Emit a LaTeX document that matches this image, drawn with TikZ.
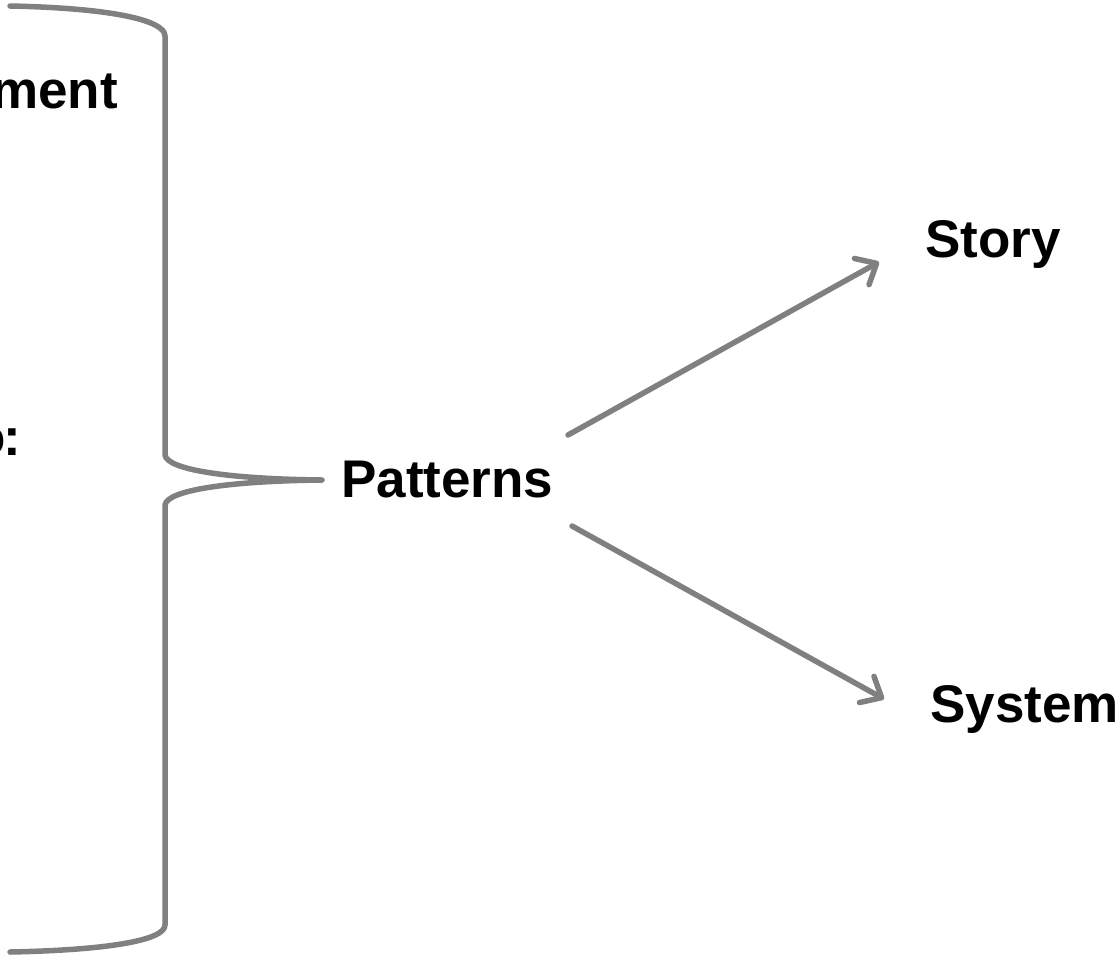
\documentclass[tikz,border=0pt]{standalone}
\usepackage{fontspec}
\setmainfont{Liberation Sans}
\usetikzlibrary{arrows.meta}
\definecolor{linegray}{HTML}{808080}
\tikzset{
  lbl/.style={inner sep=0pt, font=\fontsize{53}{60}\selectfont\bfseries, text=black},
  bracepath/.style={draw=linegray, line width=5.5pt, line cap=round, line join=round},
  arr/.style={draw=linegray, line width=5.5pt, line cap=round,
    -{Straight Barb[length=17pt,width=30pt,round]}}
}
\begin{document}
\begin{tikzpicture}[x=1pt,y=-1pt]
\useasboundingbox (0,0) rectangle (1119,956);
\clip (0,0) rectangle (1119,956);
% cropped texts on the left
\node[lbl, anchor=base east] (ment) at (118,108) {ment};
\node[lbl, anchor=base east] (colon) at (21,455) {o\kern-3pt:};
% main labels
\node[lbl, anchor=base west] (pat) at (341,497) {Patterns};
\node[lbl, anchor=base west] (story) at (925,257) {Story};
\node[lbl, anchor=base west] (sys) at (930,722) {System};
% brace
\coordinate (btop) at (10,6);
\coordinate (btip) at (322,480);
\coordinate (bbot) at (10,952);
\draw[bracepath] (btop) .. controls (110,8) and (165,20) .. (165,36)
  -- (165,455) .. controls (167,470) and (230,479) .. (btip)
  .. controls (230,481) and (167,490) .. (165,505)
  -- (165,925) .. controls (165,940) and (110,950) .. (bbot);
% arrows
\coordinate (a1s) at (568,435);
\coordinate (a1e) at (879,262);
\coordinate (a2s) at (572,526);
\coordinate (a2e) at (884,699);
\draw[arr] (a1s) -- (a1e);
\draw[arr] (a2s) -- (a2e);
\end{tikzpicture}
\end{document}
